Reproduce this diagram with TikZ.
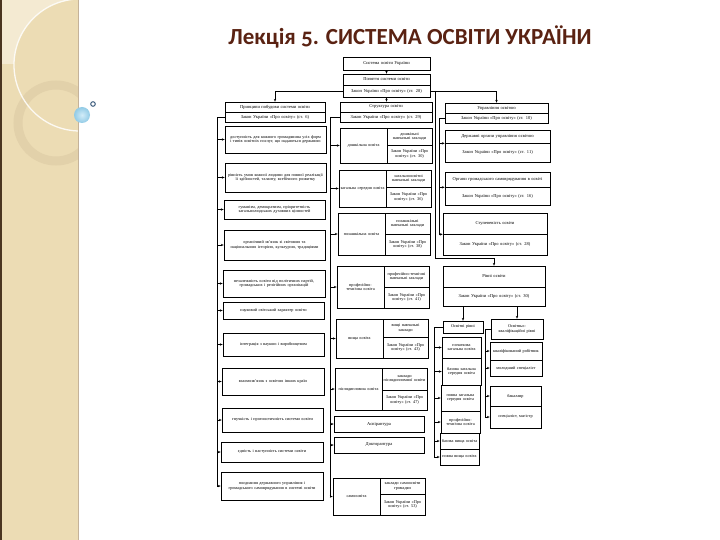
\documentclass[tikz,border=0pt]{standalone}
\usepackage{fontspec}
\setmainfont{Liberation Serif}
\newfontfamily\titlefont[Numbers=OldStyle]{Carlito}
\usetikzlibrary{arrows.meta,calc}
\definecolor{band}{HTML}{ECDCB4}
\definecolor{bandlight}{HTML}{F4EAD2}
\definecolor{ringcol}{HTML}{E2D1AA}
\definecolor{edgedark}{HTML}{4A3520}
\definecolor{edgegray}{HTML}{C4B299}
\definecolor{titlecol}{HTML}{5A2212}
\definecolor{dotin}{HTML}{D2ECF8}
\definecolor{dotout}{HTML}{92CBE6}
\definecolor{ringblue}{HTML}{3F5F7F}
\newcommand\dfont{\fontsize{4.3}{4.8}\selectfont}
\newcommand\hfont{\fontsize{4.5}{5}\selectfont}
\tikzset{
  bx/.style={draw=black, line width=0.7bp, inner sep=0.5bp, align=center, text=black, font=\dfont},
  hb/.style={bx, font=\hfont},
  ln/.style={draw=black, line width=0.7bp},
  arr/.style={ln, -{Stealth[length=2.8bp,width=2.4bp]}}
}
% name, x1, y1, x2, y2, text
\newcommand\mkbox[6]{%
  \pgfmathsetmacro\bw{#4-#2}\pgfmathsetmacro\bh{#5-#3}\pgfmathsetmacro\tw{#4-#2-3}%
  \node[bx, minimum width=\bw bp, minimum height=\bh bp, text width=\tw bp] (#1) at ({(#2+#4)/2},{(#3+#5)/2}) {#6};}
\newcommand\mkhbox[6]{%
  \pgfmathsetmacro\bw{#4-#2}\pgfmathsetmacro\bh{#5-#3}\pgfmathsetmacro\tw{#4-#2-3}%
  \node[hb, minimum width=\bw bp, minimum height=\bh bp, text width=\tw bp] (#1) at ({(#2+#4)/2},{(#3+#5)/2}) {#6};}
\begin{document}
\begin{tikzpicture}[x=1bp,y=-1bp]
\useasboundingbox (0,0) rectangle (720,540);
\fill[white] (0,0) rectangle (720,540);
% decorative band
\begin{scope}
  \clip (0,0) rectangle (78,540);
  \fill[bandlight] (0,0) rectangle (78,540);
  \fill[band] (80,65) circle[radius=66bp];
  \fill[band] (0,64) rectangle (78,540);
  \draw[ringcol, line width=9bp] (56,123) circle[radius=38bp];
  \draw[white, opacity=0.85, line width=1.3bp] (80,65) circle[radius=66bp];
\end{scope}
\fill[edgedark] (0,0) rectangle (2,540);
\draw[edgegray, line width=0.8bp] (78.5,0) -- (78.5,540);
\shade[inner color=dotin, outer color=dotout] (82,115) circle[radius=8bp];
\draw[ringblue, line width=1bp, fill=white] (93,104) circle[radius=2.3bp];
% title
\node[font=\titlefont\bfseries\fontsize{23.1}{23.1}\selectfont, text=titlecol] (title) at (410,37) {Лекція 5. СИСТЕМА ОСВІТИ УКРАЇНИ};
% top
\mkhbox{T1}{343}{57}{430}{70}{Система освіти України}
\mkhbox{T2a}{343}{74}{430}{85}{Поняття системи освіти}
\mkhbox{T2b}{343}{85}{430}{97}{Закон України «Про освіту» (ст. 28)}
% left header
\mkhbox{LH1}{225}{102}{325}{112}{Принципи побудови системи освіти}
\mkhbox{LH2}{225}{112}{325}{122}{Закон України «Про освіту» (ст. 6)}
% left boxes
\mkbox{L1}{225}{126}{326}{153}{доступність для кожного громадянина усіх форм і типів освітніх послуг, що надаються державою}
\mkbox{L2}{225}{163}{326}{192}{рівність умов кожної людини для повної реалізації її здібностей, таланту, всебічного розвитку}
\mkbox{L3}{224}{200}{325}{219}{гуманізм, демократизм, пріоритетність загальнолюдських духовних цінностей}
\mkbox{L4}{224}{230}{325}{260}{органічний зв’язок зі світовою та національною історією, культурою, традиціями}
\mkbox{L5}{223}{270}{325}{297}{незалежність освіти від політичних партій, громадських і релігійних організацій}
\mkbox{L6}{223}{302}{324}{319}{науковий світський характер освіти}
\mkbox{L7}{223}{333}{324}{356}{інтеграція з наукою і виробництвом}
\mkbox{L8}{222}{368}{324}{395}{взаємозв’язок з освітою інших країн}
\mkbox{L9}{222}{408}{323}{432}{гнучкість і прогностичність системи освіти}
\mkbox{L10}{221}{442}{323}{462}{єдність і наступність системи освіти}
\mkbox{L11}{221}{472}{323}{500}{поєднання державного управління і громадського самоврядування в системі освіти}
% middle header
\mkhbox{MH1}{340}{102}{432}{112}{Структура освіти}
\mkhbox{MH2}{340}{112}{432}{122}{Закон України «Про освіту» (ст. 29)}
% middle boxes
\mkbox{M1}{340}{128}{387}{163}{дошкільна освіта}
\mkbox{M1a}{387}{128}{432}{145}{дошкільні навчальні заклади}
\mkbox{M1b}{387}{145}{432}{163}{Закон України «Про освіту» (ст. 30)}
\mkbox{M2}{339}{170}{386}{207}{загальна середня освіта}
\mkbox{M2a}{386}{170}{431}{187}{загальноосвітні навчальні заклади}
\mkbox{M2b}{386}{187}{431}{207}{Закон України «Про освіту» (ст. 36)}
\mkbox{M3}{338}{213}{385}{255}{позашкільна освіта}
\mkbox{M3a}{385}{213}{430}{234}{позашкільні навчальні заклади}
\mkbox{M3b}{385}{234}{430}{255}{Закон України «Про освіту» (ст. 38)}
\mkbox{M4}{337}{266}{384}{308}{професійно-технічна освіта}
\mkbox{M4a}{384}{266}{429}{287}{професійно-технічні навчальні заклади}
\mkbox{M4b}{384}{287}{429}{308}{Закон України «Про освіту» (ст. 41)}
\mkbox{M5}{336}{319}{383}{358}{вища освіта}
\mkbox{M5a}{383}{319}{428}{337}{вищі навчальні заклади}
\mkbox{M5b}{383}{337}{428}{358}{Закон України «Про освіту» (ст. 43)}
\mkbox{M6}{335}{368}{382}{410}{післядипломна освіта}
\mkbox{M6a}{382}{368}{427}{390}{заклади післядипломної освіти}
\mkbox{M6b}{382}{390}{427}{410}{Закон України «Про освіту» (ст. 47)}
\mkhbox{M7}{334}{416}{424}{432}{Аспірантура}
\mkhbox{M8}{334}{437}{424}{453}{Докторантура}
\mkbox{M9}{333}{478}{380}{515}{самоосвіта}
\mkbox{M9a}{380}{478}{425}{494}{заклади самоосвіти громадян}
\mkbox{M9b}{380}{494}{425}{515}{Закон України «Про освіту» (ст. 53)}
% right header
\mkhbox{RH1}{445}{103}{548}{113}{Управління освітою}
\mkhbox{RH2}{445}{113}{548}{123}{Закон України «Про освіту» (ст. 10)}
\mkhbox{R1a}{445}{130}{550}{143}{Державні органи управління освітою}
\mkhbox{R1b}{445}{143}{550}{162}{Закон України «Про освіту» (ст. 11)}
\mkhbox{R2a}{445}{172}{550}{187}{Органи громадського самоврядування в освіті}
\mkhbox{R2b}{445}{187}{550}{205}{Закон України «Про освіту» (ст. 16)}
\mkhbox{R3a}{443}{213}{547}{234}{Ступеневість освіти}
\mkhbox{R3b}{443}{234}{547}{255}{Закон України «Про освіту» (ст. 28)}
\mkhbox{R4a}{443}{266}{545}{287}{Рівні освіти}
\mkhbox{R4b}{443}{287}{545}{306}{Закон України «Про освіту» (ст. 30)}
% levels
\mkbox{E0}{443}{321}{483}{333}{Освітні рівні}
\mkbox{E1}{442}{337}{481}{358}{початкова загальна освіта}
\mkbox{E2}{442}{358}{481}{385}{базова загальна середня освіта}
\mkbox{E3}{441}{385}{480}{411}{повна загальна середня освіта}
\mkbox{E4}{441}{411}{480}{433}{професійно-технічна освіта}
\mkbox{E5}{440}{433}{479}{449}{базова вища освіта}
\mkbox{E6}{440}{449}{479}{465}{повна вища освіта}
\mkbox{Q0}{491}{319}{543}{339}{Освітньо-кваліфікаційні рівні}
\mkbox{Q1a}{490}{342}{542}{360}{кваліфікований робітник}
\mkbox{Q1b}{490}{360}{542}{376}{молодший спеціаліст}
\mkbox{Q2a}{490}{386}{541}{406}{бакалавр}
\mkbox{Q2b}{490}{406}{541}{428}{спеціаліст, магістр}
% connectors top
\draw[arr] (T1) -- (T2a);
\draw[arr] (T2b.west) -| (LH1.north);
\draw[arr] (T2b.east) -| (RH1.north);
\draw[arr] (T2b.south) -- (T2b.south |- MH1.north);
\coordinate (lx) at (435,91);
\coordinate (lb) at (435,258);
\draw[arr] (lx) -- (lb) -| (R4a.north);
% left spine
\coordinate (ls) at (217,117);
\draw[ln] (LH2.west) -- (ls) -- (ls |- L11.west);
\foreach \i in {1,...,11} \draw[arr] (ls |- L\i.west) -- (L\i.west);
% middle spine
\coordinate (ms) at (330,117);
\draw[ln] (MH2.west) -- (ms) -- (ms |- M9.west);
\foreach \i in {M1,M2,M3,M4,M5,M6,M7,M8,M9} \draw[arr] (ms |- \i.west) -- (\i.west);
% right spine
\coordinate (rs) at (439,118);
\draw[ln] (RH2.west) -- (rs) -- (rs |- R3a.south west);
\foreach \i in {R1a,R2a,R3a} \draw[arr] (rs |- \i.south west) -- (\i.south west);
% levels
\draw[arr] (E0.north |- R4b.south) -- (E0.north);
\draw[arr] (Q0.north |- R4b.south) -- (Q0.north);
\coordinate (es) at (434,327);
\draw[ln] (E0.west) -- (es) -- (es |- E6.west);
\foreach \i in {E1,E2,E3,E4,E5,E6} \draw[arr] (es |- \i.west) -- (\i.west);
\coordinate (qs) at (485,329);
\draw[ln] (Q0.west) -- (qs) -- (qs |- Q2b.west);
\foreach \i in {Q1a,Q1b,Q2a,Q2b} \draw[arr] (qs |- \i.west) -- (\i.west);
\end{tikzpicture}
\end{document}
